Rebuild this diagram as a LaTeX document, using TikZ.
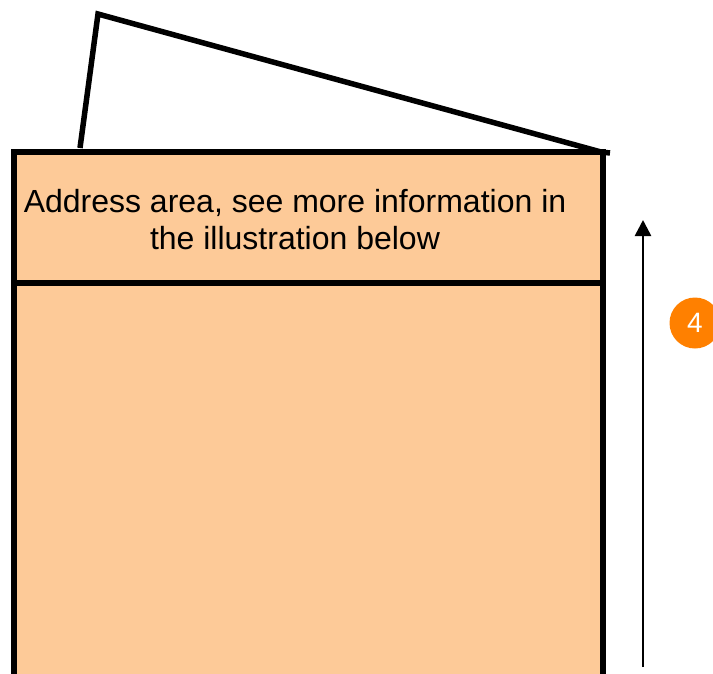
\documentclass[tikz,border=0pt]{standalone}
\usepackage{fontspec}
\setmainfont{Liberation Sans}
\usetikzlibrary{arrows.meta}
\definecolor{paper}{HTML}{FDCA98}
\definecolor{badge}{HTML}{FF8000}
\tikzset{
  edge/.style={line width=5.5pt, line join=miter},
  label/.style={font=\fontsize{32}{37}\selectfont, align=center, inner sep=0pt},
  numbadge/.style={circle, fill=badge, minimum size=51pt, inner sep=0pt, text=white, font=\fontsize{28}{32}\selectfont},
}
\begin{document}
\begin{tikzpicture}[x=1pt,y=-1pt]
\useasboundingbox (0,0) rectangle (713,673);
\clip (0,0) rectangle (713,673);
% flap
\coordinate (f1) at (80,148);
\coordinate (f2) at (98,14);
\coordinate (f3) at (601,152);
\coordinate (f4) at (610,153);
\draw[edge] (f1) -- (f2) -- (f3) -- (f4);
% body
\coordinate (tl) at (14,152);
\coordinate (tr) at (603,152);
\coordinate (bl) at (14,690);
\coordinate (br) at (603,690);
\coordinate (ml) at (14,283);
\coordinate (mr) at (603,283);
\fill[paper] (tl) rectangle (br);
\draw[edge] (bl) -- (tl) -- (tr) -- (br);
\draw[edge] (ml) -- (mr);
\node[label] (addr) at (295,220) {Address area, see more information in\\the illustration below};
% arrow
\coordinate (a0) at (643,667);
\coordinate (a1) at (643,220);
\draw[line width=2.6pt, -{Triangle[length=16pt,width=16pt]}] (a0) -- (a1);
\node[numbadge] (n4) at (695,323) {4};
\end{tikzpicture}
\end{document}
